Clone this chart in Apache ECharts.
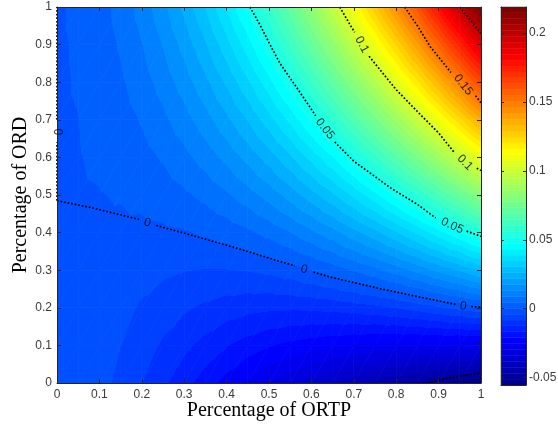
<!DOCTYPE html>
<html><head><meta charset="utf-8">
<script src="https://cdn.jsdelivr.net/npm/echarts@6/dist/echarts.min.js"></script>
<style>html,body{margin:0;padding:0;background:#fff}#c{width:558px;height:425px}</style>
</head><body><div id="c"></div>
<script>
// ---- data ----
const xValues = [0,0.05,0.1,0.15,0.2,0.25,0.3,0.35,0.4,0.45,0.5,0.55,0.6,0.65,0.7,0.75,0.8,0.85,0.9,0.95,1];
const yValues = [0,0.1,0.2,0.3,0.4,0.5,0.6,0.7,0.8,0.9,1];
// zRows[j][i] = value at (xValues[i], yValues[j])
const zRows = [
 [0,-0.0007,-0.0025,-0.0050,-0.0082,-0.0116,-0.0152,-0.0189,-0.0227,-0.0263,-0.0297,-0.0327,-0.0355,-0.0383,-0.0409,-0.0436,-0.0460,-0.0484,-0.0504,-0.0530,-0.0554],
 [0,-0.0006,-0.0019,-0.0039,-0.0063,-0.0088,-0.0114,-0.0140,-0.0165,-0.0187,-0.0207,-0.0223,-0.0235,-0.0247,-0.0256,-0.0265,-0.0270,-0.0274,-0.0274,-0.0278,-0.0280],
 [0,-0.0004,-0.0014,-0.0028,-0.0044,-0.0060,-0.0076,-0.0090,-0.0103,-0.0112,-0.0118,-0.0119,-0.0116,-0.0111,-0.0103,-0.0093,-0.0080,-0.0064,-0.0044,-0.0027,-0.0006],
 [0,-0.0003,-0.0009,-0.0017,-0.0025,-0.0032,-0.0038,-0.0041,-0.0041,-0.0037,-0.0029,-0.0015,0.0004,0.0025,0.0051,0.0078,0.0110,0.0146,0.0186,0.0225,0.0269],
 [0,-0.0001,-0.0003,-0.0005,-0.0006,-0.0004,0.0000,0.0009,0.0021,0.0038,0.0061,0.0089,0.0123,0.0160,0.0204,0.0249,0.0300,0.0356,0.0417,0.0477,0.0543],
 [0,0.0000,0.0002,0.0006,0.0013,0.0023,0.0039,0.0058,0.0083,0.0114,0.0150,0.0193,0.0243,0.0296,0.0357,0.0421,0.0491,0.0565,0.0647,0.0729,0.0818],
 [0,0.0002,0.0008,0.0017,0.0031,0.0051,0.0077,0.0108,0.0145,0.0189,0.0239,0.0297,0.0362,0.0432,0.0510,0.0592,0.0681,0.0775,0.0877,0.0981,0.1092],
 [0,0.0003,0.0013,0.0028,0.0050,0.0079,0.0115,0.0157,0.0207,0.0264,0.0329,0.0401,0.0482,0.0568,0.0663,0.0763,0.0871,0.0985,0.1107,0.1233,0.1367],
 [0,0.0005,0.0018,0.0040,0.0069,0.0107,0.0153,0.0207,0.0269,0.0339,0.0418,0.0505,0.0601,0.0704,0.0816,0.0934,0.1061,0.1195,0.1337,0.1485,0.1641],
 [0,0.0006,0.0024,0.0051,0.0088,0.0135,0.0191,0.0256,0.0331,0.0414,0.0507,0.0610,0.0721,0.0840,0.0969,0.1106,0.1251,0.1405,0.1567,0.1737,0.1915],
 [0,0.0008,0.0029,0.0062,0.0107,0.0163,0.0229,0.0305,0.0393,0.0490,0.0597,0.0714,0.0840,0.0976,0.1122,0.1277,0.1441,0.1614,0.1797,0.1989,0.2190]
];
const colorbarTicks = [-0.05,0,0.05,0.1,0.15,0.2];

// contour lines (null = gap for inline label)
const contourZero = [[0,0.485],[0.086,0.465],[0.172,0.441],[0.193,0.435],null,[0.234,0.419],[0.314,0.394],[0.432,0.356],[0.526,0.323],[0.561,0.312],null,[0.605,0.295],[0.644,0.282],[0.762,0.251],[0.88,0.223],[0.94,0.209],null,[0.977,0.203],[1,0.202]];
const contourZeroEdge = [[0,0.485],[0,0.64],null,[0,0.70],[0,1]];
const contourMinus005 = [[0.875,0],[0.91,0.01],[0.95,0.018],[1,0.027]];
const contour005 = [[0.455,1],[0.48,0.95],[0.50,0.905],[0.526,0.85],[0.57,0.778],[0.61,0.711],null,[0.655,0.641],[0.7,0.59],[0.785,0.52],[0.85,0.475],[0.893,0.439],null,[0.966,0.404],[1,0.39]];
const contour010 = [[0.667,1],[0.69,0.955],[0.702,0.933],null,[0.736,0.869],[0.8,0.78],[0.85,0.722],[0.9,0.665],[0.937,0.613],null,[0.99,0.571],[1,0.565]];
const contour015 = [[0.82,1],[0.85,0.95],[0.88,0.895],[0.929,0.826],null,[0.987,0.764],[1,0.745]];
const contour020 = [[0.95,1],[0.975,0.965],[1,0.93]];
const contourLines = [contourZero, contourZeroEdge, contourMinus005, contour005, contour010, contour015, contour020];

const labelText = ['0','0','0','0','0.05','0.05','0.1','0.1','0.15'];
const labelX = [0.007,0.213,0.583,0.958,0.632,0.932,0.719,0.962,0.958];
const labelY = [0.668,0.426,0.302,0.204,0.676,0.418,0.900,0.586,0.793];
const labelAngle = [90,-16,-15,-8,-52,-24,-62,-45,-52];

// ---- rendering ----
const chart = echarts.init(document.getElementById('c'), null, {renderer:'canvas'});
let cmin = Infinity, cmax = -Infinity;
zRows.forEach(r => r.forEach(v => { if (v < cmin) cmin = v; if (v > cmax) cmax = v; }));
const NLEV = 64;
const step = (cmax - cmin) / NLEV;
function jet(k) { // MATLAB jet(64), k = 0..63
  const i = k + 1;
  const r = i <= 24 ? 0 : i <= 40 ? (i - 24) / 16 : i <= 56 ? 1 : (16 - (i - 56)) / 16;
  const g = i <= 8 ? 0 : i <= 24 ? (i - 8) / 16 : i <= 40 ? 1 : i <= 55 ? (16 - (i - 40)) / 16 : 0;
  const b = i <= 8 ? (8 + i) / 16 : i <= 24 ? 1 : i <= 39 ? (16 - (i - 24)) / 16 : 0;
  return 'rgb(' + Math.round(r * 255) + ',' + Math.round(g * 255) + ',' + Math.round(b * 255) + ')';
}
function lev(z) { return Math.min(NLEV - 1, Math.max(0, Math.floor((z - cmin) / (cmax - cmin) * NLEV))); }

function tri(p1, p2, p3) {
  const P = [p1, p2, p3];
  const zs = P.map(p => p.z);
  const zmin = Math.min(...zs), zmax = Math.max(...zs);
  const lo = lev(zmin), hi = lev(zmax);
  let fill;
  if (lo === hi || zmax - zmin < 1e-12) fill = jet(lo);
  else {
    const d1x = p2.x - p1.x, d1y = p2.y - p1.y, d2x = p3.x - p1.x, d2y = p3.y - p1.y;
    const dz1 = p2.z - p1.z, dz2 = p3.z - p1.z;
    const det = d1x * d2y - d1y * d2x;
    const ga = (dz1 * d2y - d1y * dz2) / det, gb = (d1x * dz2 - dz1 * d2x) / det;
    const g2 = ga * ga + gb * gb;
    const vm = P[zs.indexOf(zmin)];
    const s = (zmax - zmin) / g2;
    const stops = [{offset: 0, color: jet(lo)}];
    for (let k = lo + 1; k <= hi; k++) {
      const bnd = cmin + k * step;
      let off = (bnd - zmin) / (zmax - zmin);
      off = Math.max(0, Math.min(1, off));
      stops.push({offset: off, color: jet(k - 1)}, {offset: off, color: jet(k)});
    }
    stops.push({offset: 1, color: jet(hi)});
    fill = new echarts.graphic.LinearGradient(vm.x, vm.y, vm.x + ga * s, vm.y + gb * s, stops, true);
  }
  return {type: 'polygon', shape: {points: P.map(p => [p.x, p.y])}, style: {fill: fill, stroke: fill, lineWidth: 0.8}};
}

const cells = [];
for (let j = 0; j < yValues.length - 1; j++)
  for (let i = 0; i < xValues.length - 1; i++)
    cells.push([(xValues[i] + xValues[i + 1]) / 2, (yValues[j] + yValues[j + 1]) / 2, i, j]);

function renderCell(params, api) {
  const i = api.value(2), j = api.value(3);
  const P = (ii, jj) => { const p = api.coord([xValues[ii], yValues[jj]]); return {x: p[0], y: p[1], z: zRows[jj][ii]}; };
  const a = P(i, j), b = P(i + 1, j), c = P(i + 1, j + 1), d = P(i, j + 1);
  return {type: 'group', children: [tri(a, b, c), tri(a, c, d)]};
}

const barData = [];
for (let k = 0; k < NLEV; k++) barData.push([0.5, cmin + (k + 0.5) * step, k]);
function renderBar(params, api) {
  const k = api.value(2);
  const p0 = api.coord([0, cmin + k * step]);
  const p1 = api.coord([1, cmin + (k + 1) * step]);
  return {type: 'rect', shape: {x: p0[0], y: p1[1], width: p1[0] - p0[0], height: p0[1] - p1[1]},
    style: {fill: jet(k), stroke: jet(k), lineWidth: 0.5}};
}

const AX = '#262626';
const tickFont = {color: '#3a3a3a', fontSize: 12, fontFamily: 'Liberation Sans'};
const series = [
  {type: 'custom', xAxisIndex: 0, yAxisIndex: 0, data: cells, renderItem: renderCell, clip: true, silent: true, z: 1},
  {type: 'custom', xAxisIndex: 2, yAxisIndex: 2, data: barData, renderItem: renderBar, silent: true, z: 1}
];
contourLines.forEach(line => {
  let seg = [];
  const flush = () => { if (seg.length > 1) series.push({type: 'line', xAxisIndex: 0, yAxisIndex: 0, data: seg, symbol: 'none', silent: true, clip: false, z: 4,
      lineStyle: {color: '#000', width: 1.7, type: [1.7, 1.9]}}); seg = []; };
  line.forEach(p => { if (p === null) flush(); else seg.push(p); });
  flush();
});
series.push({type: 'scatter', xAxisIndex: 0, yAxisIndex: 0, symbol: 'circle', symbolSize: 0.1, silent: true, z: 5,
  itemStyle: {color: 'rgba(0,0,0,0)'},
  data: labelText.map((t, n) => ({value: [labelX[n], labelY[n]],
    label: {show: true, position: 'inside', formatter: t, rotate: labelAngle[n], color: '#000', fontSize: 12, fontFamily: 'Liberation Sans'}}))
});

const boxAxis = (grid, pos, extra) => Object.assign({
  gridIndex: grid, type: 'value', position: pos, z: 10,
  axisLine: {show: true, onZero: false, lineStyle: {color: AX, width: 1}},
  splitLine: {show: false}, axisLabel: {show: false}, axisTick: {show: false}
}, extra);

chart.setOption({
  animation: false,
  backgroundColor: '#fff',
  grid: [
    {left: 57, top: 7, width: 424, height: 376, outerBoundsMode: 'none', containLabel: false},
    {left: 501, top: 7, width: 25, height: 378, outerBoundsMode: 'none', containLabel: false}
  ],
  xAxis: [
    boxAxis(0, 'bottom', {min: 0, max: 1, interval: 0.1,
      axisTick: {show: true, inside: true, length: 4, lineStyle: {color: AX}},
      axisLabel: Object.assign({show: true, margin: 6}, tickFont),
      name: 'Percentage of ORTP', nameLocation: 'middle', nameGap: 18, nameMoveOverlap: false,
      nameTextStyle: {fontFamily: 'Liberation Serif', fontSize: 20, color: '#000'}}),
    boxAxis(0, 'top', {min: 0, max: 1, interval: 0.1, axisTick: {show: true, inside: true, length: 4, lineStyle: {color: AX}}}),
    boxAxis(1, 'bottom', {min: 0, max: 1}),
    boxAxis(1, 'top', {min: 0, max: 1})
  ],
  yAxis: [
    boxAxis(0, 'left', {min: 0, max: 1, interval: 0.1,
      axisTick: {show: true, inside: true, length: 4, lineStyle: {color: AX}},
      axisLabel: Object.assign({show: true, margin: 5}, tickFont),
      name: 'Percentage of ORD', nameLocation: 'middle', nameGap: 26, nameMoveOverlap: false,
      nameTextStyle: {fontFamily: 'Liberation Serif', fontSize: 20, color: '#000'}}),
    boxAxis(0, 'right', {min: 0, max: 1, interval: 0.1, axisTick: {show: true, inside: true, length: 4, lineStyle: {color: AX}}}),
    boxAxis(1, 'left', {min: cmin, max: cmax,
      axisTick: {show: true, inside: true, length: 3, customValues: colorbarTicks, lineStyle: {color: AX}}}),
    boxAxis(1, 'right', {min: cmin, max: cmax,
      axisTick: {show: true, inside: true, length: 3, customValues: colorbarTicks, lineStyle: {color: AX}},
      axisLabel: Object.assign({show: true, margin: 3, customValues: colorbarTicks}, tickFont)})
  ],
  series: series
});
</script></body></html>
